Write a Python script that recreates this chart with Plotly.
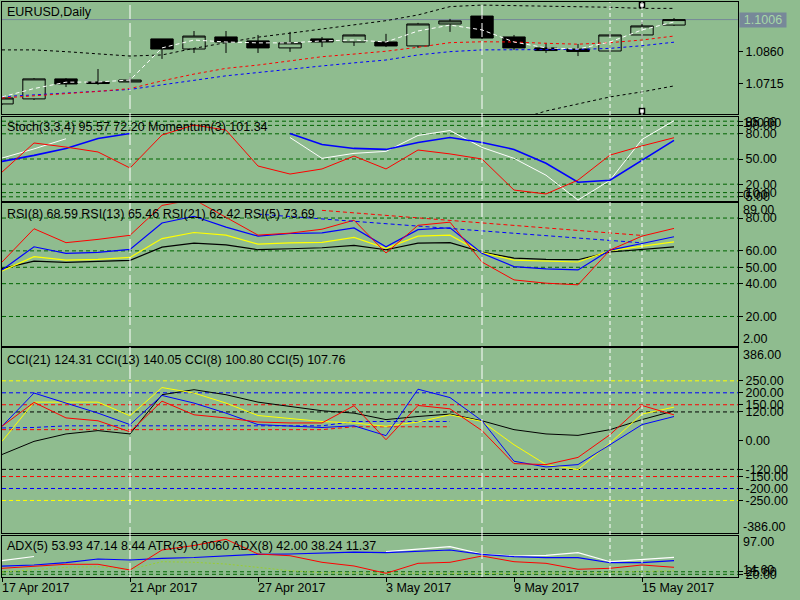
import plotly.graph_objects as go

# EURUSD daily bars, 17 Apr - 16 May 2017
dates = ["17 Apr 2017", "18 Apr 2017", "19 Apr 2017", "20 Apr 2017", "21 Apr 2017",
         "24 Apr 2017", "25 Apr 2017", "26 Apr 2017", "27 Apr 2017", "28 Apr 2017",
         "1 May 2017", "2 May 2017", "3 May 2017", "4 May 2017", "5 May 2017",
         "8 May 2017", "9 May 2017", "10 May 2017", "11 May 2017", "12 May 2017",
         "15 May 2017", "16 May 2017"]
opens = [1.0622, 1.0645, 1.0736, 1.0722, 1.0722, 1.0918, 1.0872, 1.0927, 1.0909, 1.0877, 1.0918,
         1.0904, 1.0904, 1.0886, 1.0986, 1.1022, 1.0927, 1.0877, 1.0872, 1.0863, 1.0936, 1.0981]
highs = [1.0654, 1.0740, 1.0740, 1.0781, 1.0745, 1.0918, 1.0954, 1.0954, 1.0936, 1.0950, 1.0927,
         1.0938, 1.0941, 1.0991, 1.1009, 1.1027, 1.0936, 1.0900, 1.0895, 1.0938, 1.0995, 1.1013]
lows = [1.0617, 1.0640, 1.0699, 1.0709, 1.0690, 1.0827, 1.0854, 1.0854, 1.0854, 1.0859, 1.0881,
        1.0886, 1.0881, 1.0877, 1.0950, 1.0918, 1.0868, 1.0854, 1.0840, 1.0861, 1.0922, 1.0977]
closes = [1.0649, 1.0736, 1.0713, 1.0715, 1.0731, 1.0872, 1.0931, 1.0904, 1.0877, 1.0900, 1.0904,
          1.0936, 1.0886, 1.0986, 1.1000, 1.0922, 1.0877, 1.0865, 1.0861, 1.0936, 1.0977, 1.1006]

# price overlays
bb_upper = [1.0868, 1.0868, 1.0860, 1.0850, 1.0840, 1.0845, 1.0875, 1.0901, 1.0926, 1.0944, 1.0962,
            1.0981, 1.1001, 1.1027, 1.1065, 1.1072, 1.1070, 1.1069, 1.1065, 1.1062, 1.1057, 1.1057]
bb_lower = [1.0510, 1.0506, 1.0503, 1.0500, 1.0498, 1.0496, 1.0498, 1.0500, 1.0503, 1.0506, 1.0510,
            1.0514, 1.0518, 1.0522, 1.0527, 1.0534, 1.0545, 1.0590, 1.0622, 1.0654, 1.0677, 1.0704]
ma_fast = [1.0654, 1.0692, 1.0721, 1.0722, 1.0731, 1.0877, 1.0913, 1.0904, 1.0900, 1.0900, 1.0909,
           1.0913, 1.0904, 1.0954, 1.0981, 1.0959, 1.0904, 1.0877, 1.0872, 1.0904, 1.0959, 1.0995]
ma_mid = [1.0649, 1.0658, 1.0670, 1.0679, 1.0692, 1.0727, 1.0758, 1.0784, 1.0799, 1.0819, 1.0837,
          1.0849, 1.0862, 1.0880, 1.0901, 1.0905, 1.0904, 1.0898, 1.0894, 1.0901, 1.0913, 1.0931]
ma_slow = [1.0655, 1.0663, 1.0671, 1.0679, 1.0688, 1.0709, 1.0731, 1.0750, 1.0765, 1.0781, 1.0795,
           1.0809, 1.0822, 1.0845, 1.0860, 1.0868, 1.0868, 1.0868, 1.0870, 1.0875, 1.0887, 1.0903]

# stochastic (3,3,4) + momentum(3); None where the line is hidden under the label
stoch_main = [51.1, 62.0, 74.1, None, None, None, None, None, None, 75.6, 50.8,
              56.7, 59.1, 78.0, 83.9, 63.8, 50.8, 30.7, 1.1, 24.7, 73.3, 95.57]
stoch_signal = [47.2, 54.3, 62.6, 74.4, 80.4, None, None, None, None, 80.4, 67.3,
                62.6, 61.4, 69.7, 75.6, 69.7, 61.4, 44.9, 22.4, 24.7, 48.4, 72.20]
momentum = [99.58, 101.07, 100.86, 100.61, 99.79, 101.48, 101.99, 101.73, 99.89, 99.48, 99.74,
            100.40, 99.74, 100.71, 100.51, 100.25, 98.66, 98.46, 99.17, 100.45, 100.92, 101.34]

# RSI
rsi5 = [53.2, 73.5, 65.0, 67.0, 69.5, 87.7, 91.3, 80.4, 69.6, 70.8, 73.2,
        78.7, 58.7, 75.6, 77.5, 53.2, 42.3, 40.3, 39.3, 60.5, 69.0, 73.69]
rsi8 = [48.4, 62.5, 58.5, 59.1, 60.9, 77.0, 81.1, 74.5, 69.0, 70.6, 71.0,
        74.0, 62.5, 72.9, 74.1, 58.5, 50.4, 49.0, 48.4, 60.5, 64.5, 68.59]
rsi13 = [47.8, 56.5, 54.4, 54.8, 56.0, 67.5, 71.2, 69.6, 64.1, 64.9, 65.2,
         68.2, 61.5, 69.0, 69.6, 58.9, 54.4, 53.8, 53.2, 60.1, 62.9, 65.46]
rsi21 = [49.2, 53.8, 53.0, 53.6, 54.2, 62.3, 64.7, 63.7, 60.7, 61.3, 61.9,
         63.3, 60.7, 64.7, 65.0, 59.3, 55.6, 54.8, 54.6, 59.3, 60.7, 62.42]
rsi_trend_red_x = ["1 May 2017", "15 May 2017"]
rsi_trend_red = [84.7, 69.4]
rsi_trend_blue_x = ["27 Apr 2017", "15 May 2017"]
rsi_trend_blue = [82.4, 64.9]

# CCI
cci21 = [-58, -3, 28, 42, 28, 192, 213, 192, 161, 143, 125,
         115, 88, 101, 111, 83, 46, 28, 22, 46, 88, 124.31]
cci13 = [-3, 161, 161, 161, 104, 222, 199, 157, 105, 92, 80,
         74, 60, 78, 108, 80, -17, -100, -121, -10, 111, 140.05]
cci8 = [60, 199, 157, 115, 67, 189, 157, 115, 67, 60, 55,
        62, 21, 215, 180, 83, -86, -110, -100, -17, 67, 100.80]
cci5 = [60, 160, 95, 83, 37, 165, 108, 95, 78, 74, 74,
        146, 4, 147, 133, 42, -96, -100, -70, 25, 147, 107.76]
cci_sig_blue = [53, 55, 62, 62, 62, 62, 62, 62, 62, 62, 62, 80, 80, 80, 80]
cci_sig_red = [46, 46, 46, 46, 46, 46, 46, 46, 46, 46, 46, 58, 58, 58, 58]

# ADX / ATR
adx5_main = [47.1, 55.5, None, None, None, None, None, None, None, None, None,
             None, 65.1, 70.5, 75.0, 60.5, 56.5, 57.9, 63.1, 45.1, 49.9, 53.93]
adx5_plus = [36.5, 38.5, 43.1, 50.5, 48.5, 51.9, 53.5, 56.5, 59.9, 60.5, 61.9,
             64.1, 63.1, 66.5, 68.5, 59.9, 55.1, 53.1, 53.1, 43.1, 43.1, 47.14]
adx8_line = [24.5, 28.5, 33.9, 35.1, 29.9, 45.1, 43.9, 40.5, 33.9, 27.1, 23.1,
             22.5, 22.0, 21.5, 21.5, 21.5, 22.0, 22.0, 22.5, 24.0, 26.0, 27.0]
atr3 = [0.00575, 0.00632, 0.00674, 0.00674, 0.00534, 0.01026, 0.01136, 0.01289, 0.00927, 0.00885, 0.00723,
        0.00632, 0.00452, 0.00698, 0.00723, 0.00878, 0.00738, 0.00698, 0.00551, 0.00575, 0.00657, 0.0060]

# axis ticks / levels / ranges
price_ticks = [1.0860, 1.0715]
stoch_levels = [95, 90, 80, 50, 20, 10, 5]
rsi_levels = [80, 60, 50, 40, 20]
cci_levels = [250, 200, 150, 120]
cci_level_colors = ["#FFFF00", "#0000FF", "#FF0000", "#000000"]
adx_levels = [25, 20]

price_range = [1.0574, 1.1086]
stoch_range = [0, 100]
mom_range = [98.10, 102.40]
rsi_range = [2, 89]
cci_range = [-386, 386]
adx_range = [14.6, 97]
atr_range = [0.00361, 0.01378]

vlines_long = ["21 Apr 2017", "8 May 2017"]
vlines_short = ["12 May 2017", "15 May 2017"]

BG = "#8FBC8F"
LEVEL = "#006400"
FONT = dict(family="Liberation Sans", size=12.5, color="black")

fig = go.Figure()


def add_line(x, y, color, xa, ya, dash=None, width=1):
    fig.add_trace(go.Scatter(x=x, y=y, mode="lines", xaxis=xa, yaxis=ya,
                             line=dict(color=color, width=width, dash=dash),
                             connectgaps=False, hoverinfo="skip"))


# pane 1: candles + overlays
fig.add_trace(go.Candlestick(
    x=dates, open=opens, high=highs, low=lows, close=closes,
    increasing=dict(line=dict(color="black", width=1), fillcolor=BG),
    decreasing=dict(line=dict(color="black", width=1), fillcolor="black"),
    whiskerwidth=0, xaxis="x", yaxis="y", hoverinfo="skip"))
add_line(dates, bb_upper, "black", "x", "y", "3px,3px")
add_line(dates, bb_lower, "black", "x", "y", "3px,3px")
add_line(dates, ma_slow, "#0000FF", "x", "y", "3px,3px")
add_line(dates, ma_mid, "#FF0000", "x", "y", "3px,3px")
add_line(dates, ma_fast, "white", "x", "y", "4px,3px")

# selection handles of the 15 May vertical line
span = price_range[1] - price_range[0]
fig.add_trace(go.Scatter(
    x=[vlines_short[1], vlines_short[1]],
    y=[price_range[1] - span * 0.027, price_range[0] + span * 0.03],
    mode="markers", xaxis="x", yaxis="y", hoverinfo="skip",
    marker=dict(symbol="square", size=5, color="white", line=dict(color="black", width=1.5))))

# pane 2: stochastic + momentum
add_line(dates, stoch_main, "white", "x2", "y2")
add_line(dates, stoch_signal, "#0000FF", "x2", "y2", width=1.6)
add_line(dates, momentum, "#FF0000", "x2", "y6")

# pane 3: RSI
add_line(dates, rsi21, "black", "x3", "y3", width=1.2)
add_line(dates, rsi13, "#FFFF00", "x3", "y3", width=1.2)
add_line(dates, rsi8, "#0000FF", "x3", "y3", width=1.2)
add_line(dates, rsi5, "#FF0000", "x3", "y3")
add_line(rsi_trend_red_x, rsi_trend_red, "#FF0000", "x3", "y3", "4px,3px")
add_line(rsi_trend_blue_x, rsi_trend_blue, "#0000FF", "x3", "y3", "4px,3px")

# pane 4: CCI
add_line(dates[:len(cci_sig_blue)], cci_sig_blue, "#0000FF", "x4", "y4", "4px,3px")
add_line(dates[:len(cci_sig_red)], cci_sig_red, "#FF0000", "x4", "y4", "4px,3px")
add_line(dates, cci21, "black", "x4", "y4")
add_line(dates, cci13, "#FFFF00", "x4", "y4")
add_line(dates, cci8, "#0000FF", "x4", "y4")
add_line(dates, cci5, "#FF0000", "x4", "y4")

# pane 5: ADX + ATR
add_line(dates, adx8_line, "#9ACD32", "x5", "y5", "2px,2px")
add_line(dates, adx5_main, "white", "x5", "y5", width=1.2)
add_line(dates, adx5_plus, "#0000FF", "x5", "y5", width=1.2)
add_line(dates, atr3, "#FF0000", "x5", "y7")

shapes = []


def hlevel(n, val, color):
    shapes.append(dict(type="line", xref=f"x{n} domain", yref=f"y{n}", x0=0, x1=1, y0=val, y1=val,
                       line=dict(color=color, width=1, dash="4px,3px"), layer="below"))


for v in stoch_levels:
    hlevel(2, v, LEVEL)
for v in rsi_levels:
    hlevel(3, v, LEVEL)
for v, c in zip(cci_levels, cci_level_colors):
    hlevel(4, v, c)
    hlevel(4, -v, c)
for v in adx_levels:
    hlevel(5, v, LEVEL)

# bid line
shapes.append(dict(type="line", xref="x domain", yref="y", x0=0, x1=1, y0=closes[-1], y1=closes[-1],
                   line=dict(color="#778899", width=1), layer="below"))

for d in vlines_long:
    shapes.append(dict(type="line", xref="x", yref="paper", x0=d, x1=d, y0=0, y1=1,
                       line=dict(color="white", width=1, dash="14px,4px"), layer="above"))
for d in vlines_short:
    shapes.append(dict(type="line", xref="x", yref="paper", x0=d, x1=d, y0=0, y1=1,
                       line=dict(color="white", width=1, dash="4px,3px"), layer="above"))

annotations = []
stoch_label = f"Stoch(3,3,4) {stoch_main[-1]:.2f} {stoch_signal[-1]:.2f} Momentum(3) {momentum[-1]:.2f}"
rsi_label = f"RSI(8) {rsi8[-1]:.2f} RSI(13) {rsi13[-1]:.2f} RSI(21) {rsi21[-1]:.2f} RSI(5) {rsi5[-1]:.2f}"
cci_label = f"CCI(21) {cci21[-1]:.2f} CCI(13) {cci13[-1]:.2f} CCI(8) {cci8[-1]:.2f} CCI(5) {cci5[-1]:.2f}"
adx_label = f"ADX(5) {adx5_main[-1]:.2f} {adx5_plus[-1]:.2f} 8.44 ATR(3) {atr3[-1]:.4f} ADX(8) 42.00 38.24 11.37"

for text, ya, shift in [("EURUSD,Daily", "y", -10), (stoch_label, "y2", -10), (rsi_label, "y3", -11),
                        (cci_label, "y4", -12), (adx_label, "y5", -10.5)]:
    annotations.append(dict(text=text, xref="paper", x=0, xanchor="left", xshift=3,
                            yref=f"{ya} domain", y=1, yanchor="middle", yshift=shift,
                            showarrow=False, font=FONT))

# pinned max / min labels of the sub-windows
for ya, rng in [("y2", stoch_range), ("y3", rsi_range), ("y4", cci_range), ("y5", adx_range)]:
    for pos, val, shift in [(1, rng[1], -6.5), (0, rng[0], 6.5)]:
        annotations.append(dict(text=f"{val:.2f}", xref="paper", x=1, xanchor="left", xshift=3,
                                yref=f"{ya} domain", y=pos, yanchor="middle", yshift=shift,
                                showarrow=False, font=FONT))

# current price tag
annotations.append(dict(text=f"{closes[-1]:.4f}", xref="paper", x=1, xanchor="left", xshift=1,
                        yref="y", y=closes[-1], yanchor="middle", showarrow=False,
                        bgcolor="#778899", width=46, height=14, borderpad=0,
                        font=dict(family="Liberation Sans", size=12.5, color="#A8D8A8")))

# date labels, left aligned on their ticks
for d in dates[::4]:
    annotations.append(dict(text=d, xref="x5", x=d, xanchor="left", xshift=-2,
                            yref="paper", y=0, yanchor="top", yshift=-2,
                            showarrow=False, font=FONT))

xbase = dict(type="category", range=[0, 23], showgrid=False, zeroline=False, showline=True,
             mirror=True, linecolor="black", linewidth=1, showticklabels=False, ticks="",
             fixedrange=True, automargin=False)


def yaxis(domain, rng, ticks, fmt, anchor):
    return dict(domain=domain, range=rng, side="right", anchor=anchor, showgrid=False, zeroline=False,
                showline=True, mirror=True, linecolor="black", linewidth=1,
                tickvals=ticks, ticktext=[fmt.format(t) for t in ticks],
                ticks="outside", ticklen=4, tickcolor="black", tickfont=FONT,
                fixedrange=True, automargin=False)


cci_ticks = cci_levels + [0] + [-v for v in cci_levels]

fig.update_layout(
    width=800, height=600,
    margin=dict(l=2, r=62, t=2, b=23),
    paper_bgcolor=BG, plot_bgcolor=BG,
    showlegend=False, hovermode=False,
    boxgap=0.3, boxgroupgap=0,
    xaxis=dict(xbase, anchor="y", rangeslider=dict(visible=False)),
    xaxis2=dict(xbase, anchor="y2"),
    xaxis3=dict(xbase, anchor="y3"),
    xaxis4=dict(xbase, anchor="y4"),
    xaxis5=dict(xbase, anchor="y5", ticks="outside", ticklen=4, tickcolor="black",
                tickvals=dates[::4]),
    yaxis=yaxis([0.80435, 1.0], price_range, price_ticks, "{:.4f}", "x"),
    yaxis2=yaxis([0.65391, 0.8], stoch_range, stoch_levels, "{:.2f}", "x2"),
    yaxis3=yaxis([0.40174, 0.64991], rsi_range, rsi_levels, "{:.2f}", "x3"),
    yaxis4=yaxis([0.07652, 0.39774], cci_range, cci_ticks, "{:.2f}", "x4"),
    yaxis5=yaxis([0.0, 0.07183], adx_range, adx_levels, "{:.2f}", "x5"),
    yaxis6=dict(overlaying="y2", anchor="x2", range=mom_range, visible=False, fixedrange=True),
    yaxis7=dict(overlaying="y5", anchor="x5", range=atr_range, visible=False, fixedrange=True),
    shapes=shapes,
    annotations=annotations,
)

# the page body has a default 8px margin; drop it so the figure sits at the window corner
fig.write_html("out.html", config={"displayModeBar": False},
               post_script="document.body.style.margin='0px';")
